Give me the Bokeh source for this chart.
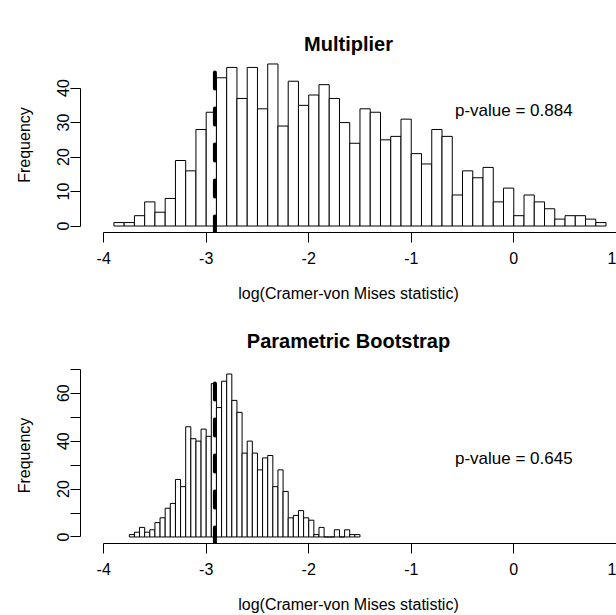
import numpy as np
from bokeh.plotting import figure
from bokeh.models import FixedTicker, Range1d, Label
from bokeh.layouts import column
from bokeh.embed import file_html
from bokeh.resources import INLINE

# ---- data ----
mult_bin_start = -3.9
mult_bin_width = 0.1
mult_counts = [1, 1, 3, 7, 4, 8, 19, 16, 28, 33, 43, 46, 37, 46, 34, 47, 29, 42, 35, 38,
               41, 37, 30, 24, 34, 33, 25, 26, 31, 21, 18, 28, 26, 9, 16, 14, 17, 7, 11, 3,
               9, 7, 5, 2, 3, 3, 2, 1]

boot_bin_start = -3.75
boot_bin_width = 0.05
boot_counts = [1, 2, 4, 2, 3, 6, 8, 12, 14, 24, 21, 46, 41, 40, 45, 42, 64, 54, 65, 68,
               57, 52, 35, 40, 35, 28, 33, 34, 21, 28, 19, 8, 9, 11, 8, 7, 1, 4, 0, 0,
               3, 0, 3, 1, 1]

observed_stat = -2.915
panel_titles = ["Multiplier", "Parametric Bootstrap"]
p_values = [0.884, 0.645]
x_label = "log(Cramer-von Mises statistic)"
y_label = "Frequency"
x_ticks = [-4, -3, -2, -1, 0, 1]
mult_y_ticks = [0, 10, 20, 30, 40]
boot_y_ticks = [0, 10, 20, 30, 40, 50, 60, 70]
boot_y_shown = [0, 20, 40, 60]
pvalue_y = [33.5, 32.6]

FONT = "Liberation Sans"


def panel(counts, start, width, title, pval, pval_y, yticks, yshown, ybound,
          mb_top, frame_h, mb_bottom, title_standoff):
    counts = np.asarray(counts, dtype=float)
    edges = start + width * np.arange(len(counts) + 1)
    ymax = counts.max()
    yr = Range1d(-0.04 * ymax, 1.04 * ymax)
    xr = Range1d(-4.226, 1.002)
    p = figure(frame_width=536, frame_height=frame_h, x_range=xr, y_range=yr,
               min_border_left=80, min_border_right=0, min_border_top=mb_top,
               min_border_bottom=mb_bottom, toolbar_location=None,
               output_backend="svg", title=title)
    p.outline_line_color = None
    p.background_fill_color = "white"
    p.border_fill_color = "white"
    p.grid.visible = False

    p.title.text_font = FONT
    p.title.text_font_size = "20px"
    p.title.text_font_style = "bold"
    p.title.align = "center"
    p.title.standoff = title_standoff
    p.title.text_color = "black"

    p.quad(left=edges[:-1], right=edges[1:], bottom=0, top=counts,
           fill_color="white", line_color="black", line_width=1)

    p.segment(x0=[observed_stat], y0=[yr.start], x1=[observed_stat], y1=[yr.end],
              line_color="black", line_width=4, line_dash="16 20", line_cap="round")

    p.add_layout(Label(x=0, y=pval_y, text=f"p-value = {pval:.3f}",
                       text_align="center", text_baseline="middle",
                       text_font=FONT, text_font_size="17px", text_color="black"))

    for ax in (p.xaxis[0], p.yaxis[0]):
        ax.axis_line_color = "black"
        ax.major_tick_line_color = "black"
        ax.minor_tick_line_color = None
        ax.major_tick_in = 0
        ax.major_tick_out = 10
        ax.major_label_text_font = FONT
        ax.major_label_text_font_size = "16px"
        ax.major_label_text_color = "black"
        ax.axis_label_text_font = FONT
        ax.axis_label_text_font_size = "16px"
        ax.axis_label_text_font_style = "normal"
        ax.axis_label_text_color = "black"

    xa = p.xaxis[0]
    xa.ticker = FixedTicker(ticks=x_ticks)
    xa.bounds = (-4, 1)
    xa.axis_label = x_label
    xa.major_label_standoff = 9
    xa.axis_label_standoff = 18
    xa.major_label_overrides = {t: str(t) for t in x_ticks}

    ya = p.yaxis[0]
    ya.ticker = FixedTicker(ticks=yticks)
    ya.bounds = ybound
    ya.axis_label = y_label
    ya.major_label_orientation = "vertical"
    ya.major_label_standoff = 1
    ya.axis_label_standoff = 22
    ya.major_label_overrides = {t: (str(t) if t in yshown else "") for t in yticks}
    return p


top = panel(mult_counts, mult_bin_start, mult_bin_width, panel_titles[0], p_values[0],
            pvalue_y[0], mult_y_ticks, mult_y_ticks, (0, 40), 57, 175, 75, 5)
bottom = panel(boot_counts, boot_bin_start, boot_bin_width, panel_titles[1], p_values[1],
               pvalue_y[1], boot_y_ticks, boot_y_shown, (0, 70), 60, 176, 72, 31)

layout = column(top, bottom, spacing=0)
open("out.html", "w").write(file_html(layout, INLINE))
